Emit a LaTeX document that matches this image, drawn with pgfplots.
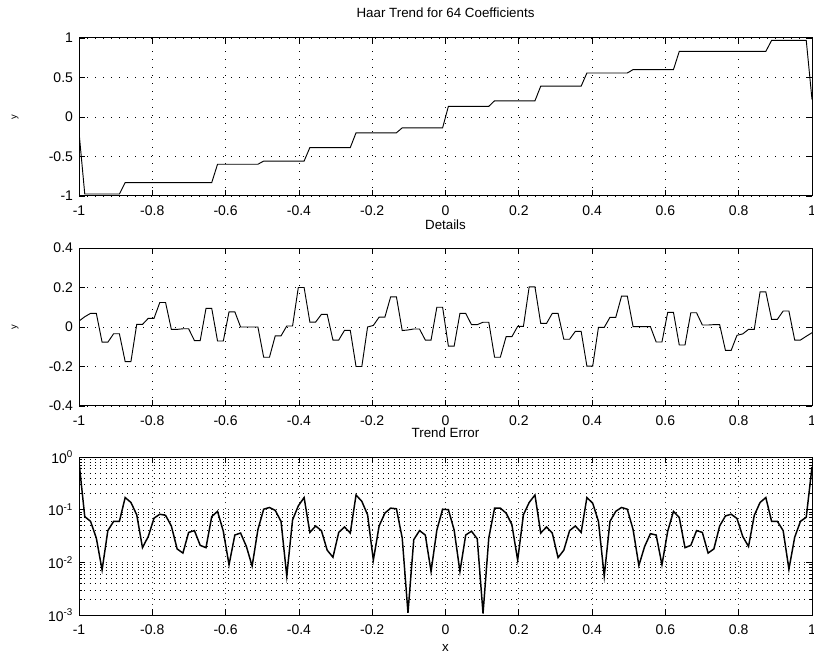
\documentclass[border=0pt]{standalone}
\usepackage{pgfplots}
\usepackage{pgfplotstable}
\usepackage{fontspec}
\setmainfont{Liberation Sans}
\pgfplotsset{compat=1.18}

\pgfplotstableread{
x d e
-1.0000 0.030 0.80
-0.9843 0.052 0.074
-0.9685 0.069 0.060
-0.9528 0.069 0.029
-0.9370 -0.077 0.0072
-0.9213 -0.077 0.040
-0.9055 -0.034 0.060
-0.8898 -0.034 0.060
-0.8740 -0.175 0.17
-0.8583 -0.175 0.137
-0.8425 0.013 0.080
-0.8268 0.013 0.019
-0.8110 0.044 0.031
-0.7953 0.044 0.069
-0.7795 0.124 0.082
-0.7638 0.124 0.078
-0.7480 -0.012 0.049
-0.7323 -0.012 0.018
-0.7165 -0.009 0.015
-0.7008 -0.009 0.037
-0.6850 -0.069 0.040
-0.6693 -0.069 0.021
-0.6535 0.094 0.019
-0.6378 0.094 0.074
-0.6220 -0.071 0.093
-0.6063 -0.071 0.039
-0.5906 0.077 0.009
-0.5748 0.077 0.033
-0.5591 0.000 0.036
-0.5433 0.000 0.020
-0.5276 0.000 0.0085
-0.5118 0.000 0.042
-0.4961 -0.153 0.102
-0.4803 -0.153 0.110
-0.4646 -0.045 0.097
-0.4488 -0.045 0.060
-0.4331 0.005 0.0055
-0.4173 0.005 0.064
-0.4016 0.200 0.118
-0.3858 0.200 0.170
-0.3701 0.025 0.037
-0.3543 0.025 0.049
-0.3386 0.064 0.040
-0.3228 0.064 0.017
-0.3071 -0.066 0.0125
-0.2913 -0.066 0.037
-0.2756 -0.017 0.047
-0.2598 -0.017 0.036
-0.2441 -0.200 0.190
-0.2283 -0.200 0.144
-0.2126 0.000 0.080
-0.1969 0.008 0.011
-0.1811 0.050 0.049
-0.1654 0.050 0.086
-0.1496 0.153 0.107
-0.1339 0.153 0.104
-0.1181 -0.018 0.029
-0.1024 -0.015 0.0011
-0.0866 -0.010 0.027
-0.0709 -0.010 0.040
-0.0551 -0.066 0.033
-0.0394 -0.066 0.0067
-0.0236 0.100 0.041
-0.0079 0.100 0.102
0.0079 -0.097 0.100
0.0236 -0.097 0.041
0.0394 0.069 0.0067
0.0551 0.069 0.033
0.0709 0.012 0.039
0.0866 0.012 0.028
0.1024 0.024 0.00107
0.1181 0.024 0.029
0.1339 -0.153 0.107
0.1496 -0.153 0.107
0.1654 -0.049 0.086
0.1811 -0.049 0.052
0.1969 0.003 0.011
0.2126 0.003 0.080
0.2283 0.203 0.137
0.2441 0.203 0.190
0.2598 0.018 0.036
0.2756 0.018 0.047
0.2913 0.069 0.036
0.3071 0.069 0.0123
0.3228 -0.062 0.017
0.3386 -0.062 0.040
0.3543 -0.022 0.049
0.3701 -0.022 0.037
0.3858 -0.198 0.170
0.4016 -0.198 0.133
0.4173 -0.002 0.060
0.4331 -0.002 0.0055
0.4488 0.049 0.060
0.4646 0.049 0.093
0.4803 0.156 0.110
0.4961 0.156 0.102
0.5118 0.002 0.042
0.5276 0.002 0.0087
0.5433 0.002 0.020
0.5591 0.002 0.035
0.5748 -0.076 0.033
0.5906 -0.076 0.009
0.6063 0.074 0.039
0.6220 0.074 0.093
0.6378 -0.091 0.071
0.6535 -0.091 0.019
0.6693 0.072 0.021
0.6850 0.072 0.040
0.7008 0.010 0.037
0.7165 0.010 0.015
0.7323 0.012 0.018
0.7480 0.012 0.049
0.7638 -0.118 0.076
0.7795 -0.118 0.082
0.7953 -0.042 0.068
0.8110 -0.035 0.031
0.8268 -0.012 0.020
0.8425 -0.012 0.078
0.8583 0.178 0.137
0.8740 0.178 0.170
0.8898 0.039 0.060
0.9055 0.039 0.060
0.9213 0.081 0.040
0.9370 0.081 0.0074
0.9528 -0.066 0.030
0.9685 -0.066 0.060
0.9843 -0.047 0.072
1.0000 -0.029 0.65
}\datatable

\pgfplotsset{
  common/.style={
    scale only axis, width=549.75pt, height=118.5pt,
    xmin=-1, xmax=1,
    xtick={-1,-0.8,-0.6,-0.4,-0.2,0,0.2,0.4,0.6,0.8,1},
    xticklabels={-1,-0.8,-0.6,-0.4,-0.2,0,0.2,0.4,0.6,0.8,1},
    tick align=inside, xtick pos=both, ytick pos=both,
    major tick length=4.5pt, minor tick length=2.5pt,
    every tick/.style={black, line width=0.5pt},
    axis line style={line width=0.75pt},
    grid=major,
    major grid style={black, line width=0.55pt, dash pattern=on 0.7pt off 5.3pt},
    tick label style={font=\fontsize{10.5}{12}\selectfont},
    xticklabel style={yshift=-4pt},
    yticklabel style={xshift=-1pt},
    title style={font=\fontsize{10}{12}\selectfont, at={(0.5,1)}, anchor=base},
    ylabel style={at={(axis description cs:-0.0873,0.5)}, anchor=center, font=\fontsize{7}{8}\selectfont},
    anchor=south west,
  }
}

\begin{document}
\begin{tikzpicture}
\path[use as bounding box] (0,0) rectangle (610.5pt,495.75pt);

\begin{axis}[common, at={(59.25pt,348.75pt)},
  ymin=-1, ymax=1, ytick={-1,-0.5,0,0.5,1}, yticklabels={-1,-0.5,0,0.5,1},
  title={Haar Trend for 64 Coefficients}, title style={yshift=9pt},
  ylabel={y}]
\addplot[black, line width=0.7pt] coordinates {
(-1,-0.19) (-0.9843,-0.975) (-0.8898,-0.975) (-0.8740,-0.83) (-0.6378,-0.83)
(-0.6220,-0.598) (-0.5118,-0.598) (-0.4961,-0.558) (-0.3858,-0.558)
(-0.3701,-0.387) (-0.2598,-0.387) (-0.2441,-0.2) (-0.1339,-0.2)
(-0.1181,-0.137) (-0.0079,-0.137) (0.0079,0.135) (0.1181,0.135)
(0.1339,0.205) (0.2441,0.205) (0.2598,0.39) (0.3701,0.39)
(0.3858,0.557) (0.4961,0.557) (0.5118,0.60) (0.6220,0.60)
(0.6378,0.83) (0.8740,0.83) (0.8898,0.97) (0.9843,0.97) (1,0.22)
};
\end{axis}

\begin{axis}[common, at={(59.25pt,191.25pt)},
  ymin=-0.4, ymax=0.4, ytick={-0.4,-0.2,0,0.2,0.4}, yticklabels={-0.4,-0.2,0,0.2,0.4},
  title={Details}, title style={yshift=8.25pt},
  ylabel={y}]
\addplot[black, line width=0.7pt] table[x=x, y=d] {\datatable};
\end{axis}

\begin{axis}[common, at={(59.25pt,34.5pt)},
  ymode=log, ymin=1e-3, ymax=1,
  ytick={1e-3,1e-2,1e-1,1},
  yticklabels={10\textsuperscript{-3},10\textsuperscript{-2},10\textsuperscript{-1},10\textsuperscript{0}},
  yminorgrids=true,
  minor grid style={black, line width=0.5pt, dash pattern=on 0.6pt off 3.4pt},
  major grid style={black!80, line width=0.5pt, dash pattern=on 0.6pt off 3.4pt},
  title={Trend Error}, title style={yshift=9pt},
  xlabel={x},
  xlabel style={at={(axis description cs:0.5,0)}, anchor=base, yshift=-27.5pt, font=\fontsize{10}{12}\selectfont}]
\addplot[black, line width=1.1pt] table[x=x, y=e] {\datatable};
\end{axis}
\end{tikzpicture}
\end{document}
